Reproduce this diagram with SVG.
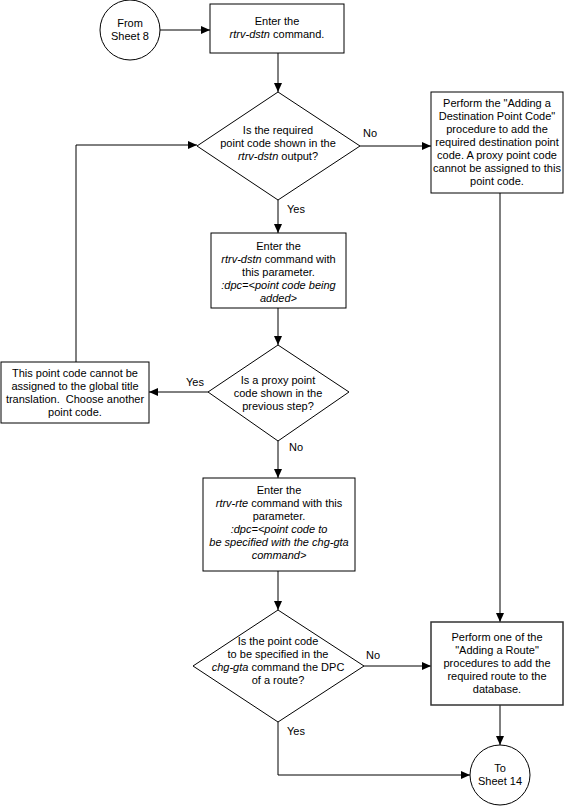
<svg xmlns="http://www.w3.org/2000/svg" width="565" height="806" viewBox="0 0 565 806">
<defs>
<marker id="ah" markerUnits="userSpaceOnUse" markerWidth="10" markerHeight="8" refX="9" refY="4" orient="auto">
<path d="M0,0 L9,4 L0,8 Z" fill="#000"/>
</marker>
<style>
.s{fill:#fff;stroke:#000;stroke-width:1}
.t{font-family:"Liberation Sans",Arial,sans-serif;font-size:11px;fill:#000;text-anchor:middle}
.l{font-family:"Liberation Sans",Arial,sans-serif;font-size:11px;fill:#000}
.i{font-style:italic}
.c{fill:none;stroke:#000;stroke-width:1}
</style>
</defs>
<rect width="565" height="806" fill="#fff"/>
<g id="connectors">
<line class="c" x1="160" y1="30" x2="210" y2="30" marker-end="url(#ah)"/>
<line class="c" x1="278" y1="53" x2="278" y2="92" marker-end="url(#ah)"/>
<line class="c" x1="360" y1="146" x2="431" y2="146" marker-end="url(#ah)"/>
<line class="c" x1="278" y1="200" x2="278" y2="233" marker-end="url(#ah)"/>
<line class="c" x1="278" y1="308" x2="278" y2="345" marker-end="url(#ah)"/>
<line class="c" x1="208" y1="392" x2="149" y2="392" marker-end="url(#ah)"/>
<polyline class="c" points="76,362 76,145 197,145" marker-end="url(#ah)"/>
<line class="c" x1="278" y1="441" x2="278" y2="478" marker-end="url(#ah)"/>
<line class="c" x1="278" y1="571" x2="278" y2="610" marker-end="url(#ah)"/>
<line class="c" x1="364" y1="666" x2="431" y2="666" marker-end="url(#ah)"/>
<line class="c" x1="500" y1="193" x2="500" y2="622" marker-end="url(#ah)"/>
<line class="c" x1="500" y1="705" x2="500" y2="745" marker-end="url(#ah)"/>
<polyline class="c" points="278,722 278,775 470,775" marker-end="url(#ah)"/>
<text class="l" x="363" y="137">No</text>
<text class="l" x="287" y="213">Yes</text>
<text class="l" x="186" y="386">Yes</text>
<text class="l" x="289" y="451">No</text>
<text class="l" x="366" y="659">No</text>
<text class="l" x="287" y="735">Yes</text>
</g>
<g id="from-sheet-8">
<circle class="s" cx="130" cy="30" r="30"/>
<text class="t" x="130" y="27">From</text>
<text class="t" x="130" y="40">Sheet 8</text>
</g>
<g id="enter-rtrv-dstn">
<rect class="s" x="210" y="4" width="134" height="49"/>
<text class="t" x="277" y="25">Enter the</text>
<text class="t" x="277" y="38"><tspan class="i">rtrv-dstn</tspan> command.</text>
</g>
<g id="dec-required-pc">
<polygon class="s" points="278,92 360,146 278,200 197,146"/>
<text class="t" x="278" y="134">Is the required</text>
<text class="t" x="278" y="147">point code shown in the</text>
<text class="t" x="278" y="160"><tspan class="i">rtrv-dstn</tspan> output?</text>
</g>
<g id="add-dpc">
<rect class="s" x="431" y="92" width="132" height="101"/>
<text class="t" x="497" y="107">Perform the "Adding a</text>
<text class="t" x="497" y="120">Destination Point Code"</text>
<text class="t" x="497" y="133">procedure to add the</text>
<text class="t" x="497" y="146">required destination point</text>
<text class="t" x="497" y="159">code. A proxy point code</text>
<text class="t" x="497" y="172">cannot be assigned to this</text>
<text class="t" x="497" y="185">point code.</text>
</g>
<g id="enter-rtrv-dstn-dpc">
<rect class="s" x="211" y="233" width="135" height="75"/>
<text class="t" x="278.5" y="250">Enter the</text>
<text class="t" x="278.5" y="263"><tspan class="i">rtrv-dstn</tspan> command with</text>
<text class="t" x="278.5" y="276">this parameter.</text>
<text class="t i" x="278.5" y="289">:dpc=&lt;point code being</text>
<text class="t i" x="278.5" y="302">added&gt;</text>
</g>
<g id="dec-proxy">
<polygon class="s" points="278,345 349,392 278,441 208,392"/>
<text class="t" x="278" y="384">Is a proxy point</text>
<text class="t" x="278" y="397">code shown in the</text>
<text class="t" x="278" y="410">previous step?</text>
</g>
<g id="cannot-assign">
<rect class="s" x="1" y="362" width="148" height="61"/>
<text class="t" x="75" y="377">This point code cannot be</text>
<text class="t" x="75" y="390">assigned to the global title</text>
<text class="t" x="75" y="403">translation.&#160; Choose another</text>
<text class="t" x="75" y="416">point code.</text>
</g>
<g id="enter-rtrv-rte">
<rect class="s" x="203" y="478" width="152" height="93"/>
<text class="t" x="279" y="494">Enter the</text>
<text class="t" x="279" y="507"><tspan class="i">rtrv-rte</tspan> command with this</text>
<text class="t" x="279" y="520">parameter.</text>
<text class="t i" x="279" y="533">:dpc=&lt;point code to</text>
<text class="t i" x="279" y="546">be specified with the chg-gta</text>
<text class="t i" x="279" y="559">command&gt;</text>
</g>
<g id="dec-dpc-route">
<polygon class="s" points="278,610 364,666 278,722 193,666"/>
<text class="t" x="278" y="645">Is the point code</text>
<text class="t" x="278" y="658">to be specified in the</text>
<text class="t" x="278" y="671"><tspan class="i">chg-gta</tspan> command the DPC</text>
<text class="t" x="278" y="684">of a route?</text>
</g>
<g id="add-route">
<rect class="s" x="431" y="622" width="132" height="83" style="stroke:#333;stroke-width:1.5"/>
<text class="t" x="497" y="641">Perform one of the</text>
<text class="t" x="497" y="654">"Adding a Route"</text>
<text class="t" x="497" y="667">procedures to add the</text>
<text class="t" x="497" y="680">required route to the</text>
<text class="t" x="497" y="693">database.</text>
</g>
<g id="to-sheet-14">
<circle class="s" cx="500" cy="775" r="30"/>
<text class="t" x="500" y="772">To</text>
<text class="t" x="500" y="785">Sheet 14</text>
</g>
</svg>
